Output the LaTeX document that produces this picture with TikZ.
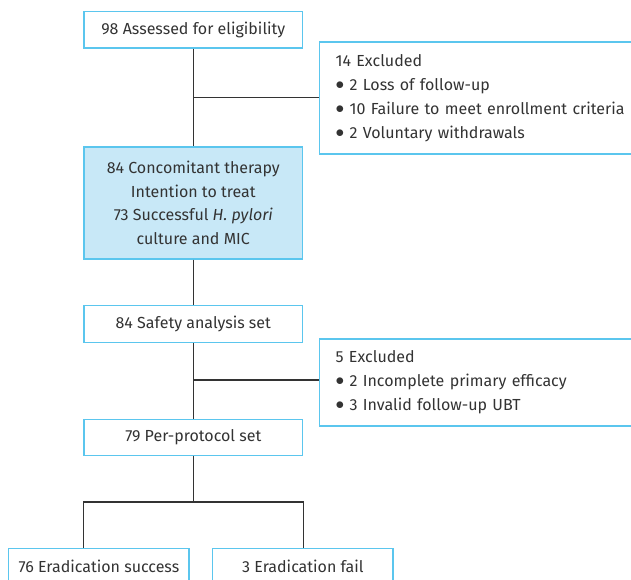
\documentclass[tikz,border=0pt]{standalone}
\usepackage{fontspec}
\setmainfont{Fira Sans}
\definecolor{bordc}{HTML}{5BC6EE}
\definecolor{fillc}{HTML}{C8E8F7}
\definecolor{txtc}{HTML}{333333}
\definecolor{linec}{HTML}{333333}
\newcommand{\bul}{\raisebox{0.1ex}{$\bullet$}\ }
\begin{document}
\begin{tikzpicture}[x=1pt,y=-1pt,
  box/.style={draw=bordc,line width=1.3pt,fill=white,text=txtc,inner sep=0pt,
    font=\fontsize{16}{23.5}\selectfont,align=center},
  mainbox/.style={box,minimum width=218.5,minimum height=36.5},
  exbox/.style={box,anchor=west,align=left,text width=300,inner xsep=16,inner ysep=0pt,
    font=\fontsize{16}{24}\selectfont},
  conn/.style={draw=linec,line width=1.2pt}]
\useasboundingbox (0,0) rectangle (631,579);
\clip (0,0) rectangle (631,579);
\node[mainbox] (a) at (193.3,29.6) {98 Assessed for eligibility};
\node[exbox,minimum height=112] (ex1) at (319,98) {14 Excluded\\
\bul 2 Loss of follow-up\\
\bul 10 Failure to meet enrollment criteria\\
\bul 2 Voluntary withdrawals};
\node[mainbox,fill=fillc,minimum height=112] (itt) at (193.3,203) {84 Concomitant therapy\\
Intention to treat\\
73 Successful \emph{H. pylori}\\
culture and MIC};
\node[mainbox] (saf) at (193.3,324) {84 Safety analysis set};
\node[exbox,minimum height=87] (ex2) at (319,382.5) {5 Excluded\\
\bul 2 Incomplete primary efficacy\\
\bul 3 Invalid follow-up UBT};
\node[mainbox,minimum height=36] (pp) at (193.3,437.3) {79 Per-protocol set};
\node[box,minimum width=180.3,minimum height=37] (s) at (98.9,566.8) {76 Eradication success};
\node[box,minimum width=180.3,minimum height=37] (f) at (302.9,566.8) {3 Eradication fail};
\coordinate (j1) at (193.3,97.3);
\coordinate (j2) at (193.3,380);
\coordinate (j3) at (193.3,502);
\draw[conn] (a.south) -- (itt.north);
\draw[conn] (j1) -- (j1 -| ex1.west);
\draw[conn] (itt.south) -- (saf.north);
\draw[conn] (saf.south) -- (pp.north);
\draw[conn] (j2) -- (j2 -| ex2.west);
\draw[conn] (pp.south) -- (j3);
\draw[conn] (pp.west |- s.north) -- (pp.west |- j3) -- (pp.east |- j3) -- (pp.east |- f.north);
\end{tikzpicture}
\end{document}
